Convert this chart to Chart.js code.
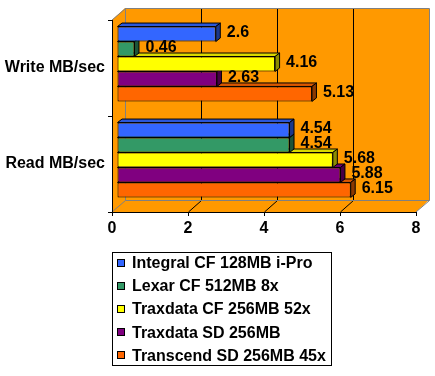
<!DOCTYPE html>
<html><head><meta charset="utf-8">
<script src="https://cdn.jsdelivr.net/npm/chart.js@4/dist/chart.umd.min.js"></script>
<style>html,body{margin:0;padding:0;background:#fff;}#wrap{width:435px;height:376px;}</style>
</head><body><div id="wrap"><canvas id="c" width="435" height="376"></canvas></div>
<script>
// ---- data ----
const categories = ['Write MB/sec', 'Read MB/sec'];
const seriesNames = ['Integral CF 128MB i-Pro', 'Lexar CF 512MB 8x', 'Traxdata CF 256MB 52x', 'Traxdata SD 256MB', 'Transcend SD 256MB 45x'];
const integralCF = [2.6, 4.54];
const lexarCF = [0.46, 4.54];
const traxdataCF = [4.16, 5.68];
const traxdataSD = [2.63, 5.88];
const transcendSD = [5.13, 6.15];
const valueTicks = [0, 2, 4, 6, 8];

// ---- styles ----
const palette = ['#3366FF', '#339966', '#FFFF00', '#800080', '#FF6600'];
const FAMILY = "'Liberation Sans', Arial, sans-serif";
const FONT = "bold 16px " + FAMILY;
const WALL = {dx: 13, dy: -12};
const SHIFT = {dx: 5, dy: -4};
const DEPTH = {dx: 4.5, dy: -3.5};

function shade(hex, f) {
  const n = parseInt(hex.slice(1), 16);
  const r = Math.round(((n >> 16) & 255) * f), g = Math.round(((n >> 8) & 255) * f), b = Math.round((n & 255) * f);
  return 'rgb(' + r + ',' + g + ',' + b + ')';
}

const seriesValues = [integralCF, lexarCF, traxdataCF, traxdataSD, transcendSD];

const walls = {
  id: 'walls',
  beforeDraw(chart) {
    const {ctx, chartArea: a, scales: {x}} = chart;
    const L = a.left, R = a.right, T = a.top, B = a.bottom, dx = WALL.dx, dy = WALL.dy;
    ctx.save();
    ctx.fillStyle = '#FF9900';
    ctx.beginPath();
    ctx.moveTo(L, B); ctx.lineTo(L, T); ctx.lineTo(L + dx, T + dy); ctx.lineTo(R + dx, T + dy);
    ctx.lineTo(R + dx, B + dy); ctx.lineTo(R, B); ctx.closePath(); ctx.fill();
    ctx.lineWidth = 1;
    // grid lines on back wall and floor
    ctx.strokeStyle = '#000';
    x.ticks.forEach((t, i) => {
      if (i === 0 || i === x.ticks.length - 1) return;
      const px = Math.round(x.getPixelForValue(t.value)) + 0.5;
      ctx.beginPath();
      ctx.moveTo(px + dx, T + dy + 0.5); ctx.lineTo(px + dx, B + dy + 0.5);
      ctx.moveTo(px, B); ctx.lineTo(px + dx, B + dy + 0.5);
      ctx.stroke();
    });
    // gray edges
    ctx.strokeStyle = '#808080';
    const bl = Math.round(L + dx) + 0.5, br = Math.round(R + dx) + 0.5;
    const bt = Math.round(T + dy) + 0.5, bb = Math.round(B + dy) + 0.5;
    ctx.beginPath();
    ctx.moveTo(bl, bb); ctx.lineTo(bl, bt); ctx.lineTo(br, bt); ctx.lineTo(br, bb); ctx.lineTo(bl, bb);
    ctx.moveTo(L, T); ctx.lineTo(bl, bt);
    ctx.moveTo(L, B); ctx.lineTo(bl, bb);
    ctx.moveTo(R, B); ctx.lineTo(br, bb);
    ctx.stroke();
    ctx.restore();
  },
  beforeDatasetsDraw(chart) {
    chart.ctx.save();
    chart.ctx.translate(SHIFT.dx, SHIFT.dy);
  },
  afterDatasetDraw(chart, args) {
    const ctx = chart.ctx;
    const base = palette[args.index % palette.length];
    args.meta.data.forEach(el => {
      const p = el.getProps(['x', 'y', 'base', 'height'], true);
      const top = p.y - p.height / 2, bot = p.y + p.height / 2;
      const l = Math.min(p.base, p.x), r = Math.max(p.base, p.x);
      ctx.save();
      ctx.lineWidth = 1; ctx.strokeStyle = '#000'; ctx.lineJoin = 'round';
      ctx.fillStyle = shade(base, 0.85);
      ctx.beginPath();
      ctx.moveTo(l, top); ctx.lineTo(l + DEPTH.dx, top + DEPTH.dy); ctx.lineTo(r + DEPTH.dx, top + DEPTH.dy); ctx.lineTo(r, top); ctx.closePath();
      ctx.fill(); ctx.stroke();
      ctx.fillStyle = shade(base, 0.55);
      ctx.beginPath();
      ctx.moveTo(r, top); ctx.lineTo(r + DEPTH.dx, top + DEPTH.dy); ctx.lineTo(r + DEPTH.dx, bot + DEPTH.dy); ctx.lineTo(r, bot); ctx.closePath();
      ctx.fill(); ctx.stroke();
      ctx.restore();
    });
  },
  afterDatasetsDraw(chart) {
    const ctx = chart.ctx;
    ctx.restore();
    ctx.save();
    ctx.font = FONT; ctx.fillStyle = '#000'; ctx.textAlign = 'left'; ctx.textBaseline = 'middle';
    chart.data.datasets.forEach((ds, di) => {
      chart.getDatasetMeta(di).data.forEach((el, i) => {
        const p = el.getProps(['x', 'y'], true);
        ctx.fillText(String(ds.data[i]), p.x + SHIFT.dx + 11, p.y + SHIFT.dy - 1.5);
      });
    });
    ctx.restore();
  },
  afterDraw(chart) {
    const ctx = chart.ctx;
    ctx.save();
    ctx.font = FONT;
    const ds = chart.data.datasets;
    const tw = Math.max(...ds.map(d => ctx.measureText(d.label).width));
    const w = Math.round(5 + 8 + 7 + tw + 5);
    const left = Math.round((chart.width - w) / 2) + 4;
    const top = 252, rowH = 23.2, h = 113;
    ctx.strokeStyle = '#000'; ctx.lineWidth = 1;
    ctx.strokeRect(left + 0.5, top + 0.5, w, h);
    ctx.textBaseline = 'middle'; ctx.textAlign = 'left';
    ds.forEach((d, i) => {
      const cy = top + 10.5 + i * rowH;
      const sy = Math.round(cy - 4);
      ctx.fillStyle = d.backgroundColor;
      ctx.fillRect(left + 5, sy, 8, 8);
      ctx.strokeRect(left + 5.5, sy + 0.5, 7, 7);
      ctx.fillStyle = '#000';
      ctx.fillText(d.label, left + 20, cy + 1);
    });
    ctx.restore();
  }
};

const tickFont = {family: FAMILY, size: 16, weight: 'bold'};

new Chart(document.getElementById('c'), {
  type: 'bar',
  data: {
    labels: categories,
    datasets: seriesNames.map((name, i) => ({
      label: name,
      data: seriesValues[i],
      backgroundColor: palette[i],
      borderColor: '#000',
      borderWidth: 1,
      borderSkipped: false,
      clip: false
    }))
  },
  options: {
    indexAxis: 'y',
    responsive: false,
    animation: false,
    devicePixelRatio: 1,
    layout: {padding: {left: 0, right: 19, top: 20, bottom: 134}},
    plugins: {legend: {display: false}, tooltip: {enabled: false}},
    datasets: {bar: {categoryPercentage: 0.78, barPercentage: 1}},
    scales: {
      x: {
        min: valueTicks[0], max: valueTicks[valueTicks.length - 1],
        afterBuildTicks: s => { s.ticks = valueTicks.map(v => ({value: v})); },
        ticks: {color: '#000', font: tickFont, padding: 3, maxRotation: 0},
        grid: {drawOnChartArea: false, drawTicks: true, tickLength: 4, color: '#000'},
        border: {display: true, color: '#000'},
        afterFit: s => { s.height = 30; }
      },
      y: {
        ticks: {color: '#000', font: tickFont, padding: 3},
        grid: {drawOnChartArea: false, drawTicks: true, tickLength: 4, color: '#000', offset: true},
        border: {display: true, color: '#000'},
        afterFit: s => { s.width = 112; }
      }
    }
  },
  plugins: [walls]
});
</script>
</body></html>
